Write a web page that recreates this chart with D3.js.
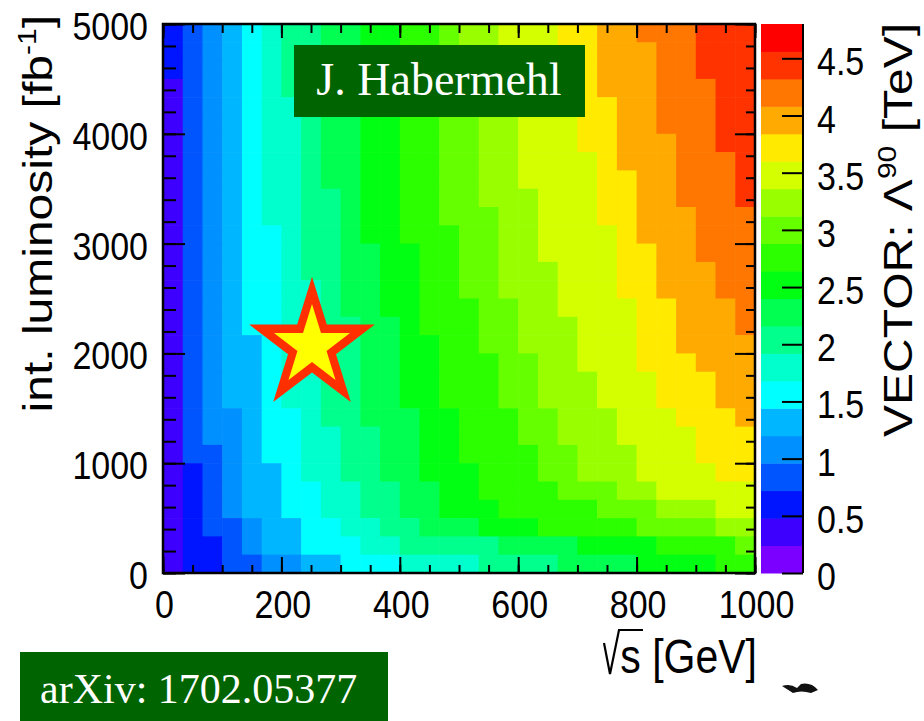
<!DOCTYPE html>
<meta charset="utf-8">
<style>
  body { margin: 0; background: #fff; }
  text { font-family: "Liberation Sans", Arial, Helvetica, sans-serif; fill: #000; }
</style>
<body>
<script src="https://cdn.jsdelivr.net/npm/d3@7"></script>
<script>

    // axis ranges and ticks
    const sqrtSRange = [0, 1000],          // GeV
          lumiRange = [0, 5000],           // fb^-1
          zRange = [0, 4.8];               // TeV
    const xTicks = [0, 200, 400, 600, 800, 1000],
          yTicks = [0, 1000, 2000, 3000, 4000, 5000],
          zTicks = [0, 0.5, 1, 1.5, 2, 2.5, 3, 3.5, 4, 4.5];

    // 20 contour colours, lowest first (ROOT rainbow palette)
    const palette = ["#7b00ff", "#3d00ff", "#0015ff", "#0055ff", "#0090ff",
                     "#00b7ff", "#00ffff", "#00ffcc", "#00ff8c", "#00ff50",
                     "#00ff12", "#2bff00", "#66ff00", "#99ff00", "#d4ff00",
                     "#ffea00", "#ffaa00", "#ff7700", "#ff3300", "#ff0000"];

    // Lambda^90 [TeV] per bin, 30 x 30; first row = highest luminosity bin
    const lambda90 = [
        [0.6,0.8,1.1,1.3,1.6,1.8,2.0,2.0,2.3,2.3,2.5,2.5,2.8,2.8,3.0,3.2,3.2,3.5,3.5,3.5,3.7,3.7,4.0,4.0,4.2,4.2,4.2,4.4,4.4,4.4],
        [0.6,0.8,1.1,1.3,1.6,1.8,2.0,2.0,2.3,2.3,2.5,2.5,2.8,2.8,3.0,3.2,3.2,3.5,3.5,3.5,3.7,3.7,4.0,4.0,4.0,4.2,4.2,4.4,4.4,4.4],
        [0.6,0.8,1.1,1.3,1.6,1.8,2.0,2.0,2.3,2.3,2.5,2.5,2.8,2.8,3.0,3.2,3.2,3.5,3.5,3.5,3.7,3.7,4.0,4.0,4.0,4.2,4.2,4.4,4.4,4.4],
        [0.4,0.8,1.1,1.3,1.6,1.8,2.0,2.0,2.3,2.3,2.5,2.5,2.8,2.8,3.0,3.2,3.2,3.5,3.5,3.5,3.5,3.7,4.0,4.0,4.0,4.2,4.2,4.2,4.4,4.4],
        [0.4,0.8,1.1,1.3,1.6,1.8,1.8,2.0,2.3,2.3,2.5,2.5,2.8,2.8,3.0,3.2,3.2,3.2,3.5,3.5,3.5,3.7,3.7,4.0,4.0,4.2,4.2,4.2,4.4,4.4],
        [0.4,0.8,1.1,1.3,1.6,1.8,1.8,2.0,2.3,2.3,2.5,2.5,2.8,2.8,3.0,3.0,3.2,3.2,3.5,3.5,3.5,3.7,3.7,4.0,4.0,4.2,4.2,4.2,4.4,4.4],
        [0.4,0.8,1.1,1.3,1.6,1.8,1.8,2.0,2.3,2.3,2.5,2.5,2.8,2.8,3.0,3.0,3.2,3.2,3.5,3.5,3.5,3.7,3.7,4.0,4.0,4.0,4.2,4.2,4.4,4.4],
        [0.4,0.8,1.1,1.3,1.6,1.8,1.8,2.0,2.3,2.3,2.5,2.5,2.8,2.8,3.0,3.0,3.2,3.2,3.5,3.5,3.5,3.5,3.7,4.0,4.0,4.0,4.2,4.2,4.2,4.4],
        [0.4,0.8,1.1,1.3,1.6,1.8,1.8,2.0,2.3,2.3,2.5,2.5,2.8,2.8,3.0,3.0,3.2,3.2,3.5,3.5,3.5,3.5,3.7,3.7,4.0,4.0,4.2,4.2,4.2,4.4],
        [0.4,0.8,1.1,1.3,1.6,1.8,1.8,2.0,2.0,2.3,2.5,2.5,2.8,2.8,3.0,3.0,3.2,3.2,3.2,3.5,3.5,3.5,3.7,3.7,4.0,4.0,4.2,4.2,4.2,4.4],
        [0.4,0.8,1.1,1.3,1.6,1.8,1.8,2.0,2.0,2.3,2.5,2.5,2.8,2.8,3.0,3.0,3.0,3.2,3.2,3.5,3.5,3.5,3.7,3.7,4.0,4.0,4.0,4.2,4.2,4.2],
        [0.4,0.8,1.1,1.3,1.6,1.6,1.8,2.0,2.0,2.3,2.5,2.5,2.8,2.8,2.8,3.0,3.0,3.2,3.2,3.5,3.5,3.5,3.5,3.7,4.0,4.0,4.0,4.2,4.2,4.2],
        [0.4,0.8,1.1,1.3,1.6,1.6,1.8,2.0,2.0,2.3,2.3,2.5,2.5,2.8,2.8,3.0,3.0,3.2,3.2,3.5,3.5,3.5,3.5,3.7,3.7,4.0,4.0,4.2,4.2,4.2],
        [0.4,0.8,1.1,1.3,1.6,1.6,1.8,2.0,2.0,2.3,2.3,2.5,2.5,2.8,2.8,3.0,3.0,3.2,3.2,3.2,3.5,3.5,3.5,3.7,3.7,4.0,4.0,4.0,4.2,4.2],
        [0.4,0.8,1.1,1.3,1.6,1.6,1.8,1.8,2.0,2.3,2.3,2.5,2.5,2.8,2.8,3.0,3.0,3.2,3.2,3.2,3.5,3.5,3.5,3.7,3.7,4.0,4.0,4.0,4.2,4.2],
        [0.4,0.8,1.1,1.3,1.6,1.6,1.8,1.8,2.0,2.3,2.3,2.5,2.5,2.8,2.8,2.8,3.0,3.0,3.2,3.2,3.5,3.5,3.5,3.5,3.7,3.7,4.0,4.0,4.0,4.2],
        [0.4,0.8,1.1,1.3,1.6,1.6,1.8,1.8,2.0,2.0,2.3,2.3,2.5,2.8,2.8,2.8,3.0,3.0,3.2,3.2,3.2,3.5,3.5,3.5,3.7,3.7,4.0,4.0,4.0,4.2],
        [0.4,0.8,1.1,1.3,1.3,1.6,1.8,1.8,2.0,2.0,2.3,2.3,2.5,2.5,2.8,2.8,3.0,3.0,3.2,3.2,3.2,3.5,3.5,3.5,3.7,3.7,4.0,4.0,4.0,4.0],
        [0.4,0.8,1.1,1.3,1.3,1.6,1.8,1.8,2.0,2.0,2.3,2.3,2.5,2.5,2.8,2.8,2.8,3.0,3.0,3.2,3.2,3.5,3.5,3.5,3.7,3.7,3.7,4.0,4.0,4.0],
        [0.4,0.8,1.1,1.3,1.3,1.6,1.8,1.8,2.0,2.0,2.3,2.3,2.5,2.5,2.8,2.8,2.8,3.0,3.0,3.2,3.2,3.2,3.5,3.5,3.5,3.7,3.7,3.7,4.0,4.0],
        [0.4,0.8,1.1,1.3,1.3,1.6,1.8,1.8,2.0,2.0,2.3,2.3,2.5,2.5,2.8,2.8,2.8,3.0,3.0,3.2,3.2,3.2,3.5,3.5,3.5,3.7,3.7,3.7,4.0,4.0],
        [0.4,0.8,1.1,1.1,1.3,1.6,1.6,1.8,2.0,2.0,2.3,2.3,2.3,2.5,2.5,2.8,2.8,2.8,3.0,3.0,3.2,3.2,3.2,3.5,3.5,3.5,3.7,3.7,3.7,4.0],
        [0.4,0.8,1.1,1.1,1.3,1.6,1.6,1.8,1.8,2.0,2.0,2.3,2.3,2.5,2.5,2.8,2.8,2.8,3.0,3.0,3.2,3.2,3.2,3.5,3.5,3.5,3.5,3.7,3.7,3.7],
        [0.4,0.8,0.8,1.1,1.3,1.6,1.6,1.8,1.8,2.0,2.0,2.3,2.3,2.5,2.5,2.8,2.8,2.8,2.8,3.0,3.0,3.2,3.2,3.2,3.5,3.5,3.5,3.7,3.7,3.7],
        [0.4,0.6,0.8,1.1,1.3,1.3,1.6,1.8,1.8,2.0,2.0,2.3,2.3,2.5,2.5,2.5,2.8,2.8,2.8,3.0,3.0,3.2,3.2,3.2,3.5,3.5,3.5,3.5,3.7,3.7],
        [0.4,0.6,0.8,1.1,1.3,1.3,1.6,1.6,1.8,1.8,2.0,2.0,2.3,2.3,2.5,2.5,2.8,2.8,2.8,2.8,3.0,3.0,3.0,3.2,3.2,3.5,3.5,3.5,3.5,3.5],
        [0.4,0.6,0.8,1.1,1.3,1.3,1.6,1.6,1.8,1.8,2.0,2.0,2.3,2.3,2.5,2.5,2.5,2.8,2.8,2.8,2.8,2.8,3.0,3.0,3.0,3.2,3.2,3.2,3.5,3.5],
        [0.4,0.6,0.8,0.8,1.1,1.3,1.3,1.6,1.6,1.8,1.8,2.0,2.0,2.3,2.3,2.3,2.5,2.5,2.5,2.8,2.8,2.8,2.8,2.8,3.0,3.0,3.0,3.0,3.2,3.2],
        [0.4,0.6,0.6,0.8,1.1,1.3,1.3,1.6,1.6,1.6,1.8,1.8,2.0,2.0,2.0,2.0,2.0,2.3,2.3,2.3,2.3,2.5,2.5,2.5,2.5,2.8,2.8,2.8,2.8,3.0],
        [0.4,0.6,0.6,0.8,0.8,1.1,1.1,1.3,1.3,1.6,1.6,1.6,1.8,1.8,1.8,1.8,2.0,2.0,2.0,2.0,2.3,2.3,2.3,2.3,2.5,2.5,2.5,2.5,2.8,2.8]
    ];

    const width = 924, height = 721;
    const frame = {left: 163, right: 755, top: 24, bottom: 573},
          bar = {left: 761, right: 803};
    const stretch = 1.15;   // the original figure is squeezed horizontally

    const svg = d3.select("body").append("svg")
        .attr("width", width)
        .attr("height", height);

    const x = d3.scaleLinear().domain(sqrtSRange).range([frame.left, frame.right]),
          y = d3.scaleLinear().domain(lumiRange).range([frame.bottom, frame.top]),
          z = d3.scaleLinear().domain(zRange).range([frame.bottom, frame.top]),
          color = d3.scaleQuantize().domain(zRange).range(palette);

    const binW = (sqrtSRange[1] - sqrtSRange[0]) / lambda90[0].length,
          binH = (lumiRange[1] - lumiRange[0]) / lambda90.length;

    const cells = lambda90.flatMap((row, r) => row.map((v, c) => ({
        x0: sqrtSRange[0] + c * binW,
        x1: sqrtSRange[0] + (c + 1) * binW,
        y1: lumiRange[1] - r * binH,
        y0: lumiRange[1] - (r + 1) * binH,
        v: v
    })));

    svg.append("g").selectAll("rect").data(cells).join("rect")
        .attr("x", d => x(d.x0))
        .attr("y", d => y(d.y1))
        .attr("width", d => x(d.x1) - x(d.x0) + 0.6)
        .attr("height", d => y(d.y0) - y(d.y1) + 0.6)
        .attr("fill", d => color(d.v));

    // ticks on all four sides, ROOT style (inside the frame)
    function ticks(axis, values, size, at) {
        svg.append("g").attr("transform", at)
            .call(axis.tickValues(values).tickSize(size).tickFormat(""))
            .call(g => g.select(".domain").remove())
            .selectAll("line").attr("stroke", "#000").attr("stroke-width", 2);
    }
    const xMinor = d3.range(0, 1001, 50),
          yMinor = d3.range(0, 5001, 200);
    ticks(d3.axisTop(x), xMinor, 8, `translate(0,${frame.bottom})`);
    ticks(d3.axisTop(x), xTicks, 16, `translate(0,${frame.bottom})`);
    ticks(d3.axisBottom(x), xMinor, 9, `translate(0,${frame.top})`);
    ticks(d3.axisBottom(x), xTicks, 14, `translate(0,${frame.top})`);
    ticks(d3.axisRight(y), yMinor, 13, `translate(${frame.left},0)`);
    ticks(d3.axisRight(y), yTicks, 22, `translate(${frame.left},0)`);
    ticks(d3.axisLeft(y), yMinor, 9, `translate(${frame.right},0)`);
    ticks(d3.axisLeft(y), yTicks, 20, `translate(${frame.right},0)`);

    svg.append("rect")
        .attr("x", frame.left).attr("y", frame.top)
        .attr("width", frame.right - frame.left)
        .attr("height", frame.bottom - frame.top)
        .attr("fill", "none").attr("stroke", "#000").attr("stroke-width", 2.5);

    // tick labels
    svg.append("g").selectAll("text").data(xTicks).join("text")
        .attr("transform", d => `translate(${x(d) + 1.5},618) scale(1,${stretch})`)
        .attr("text-anchor", "middle")
        .attr("font-size", 34)
        .text(d => d);

    svg.append("g").selectAll("text").data(yTicks).join("text")
        .attr("transform", d => `translate(148,${y(d) + 16}) scale(1,${stretch})`)
        .attr("text-anchor", "end")
        .attr("font-size", 34)
        .text(d => d);

    // colour bar
    const levels = d3.range(palette.length + 1)
        .map(i => zRange[0] + i * (zRange[1] - zRange[0]) / palette.length);

    svg.append("g").selectAll("rect").data(palette).join("rect")
        .attr("x", bar.left)
        .attr("width", bar.right - bar.left)
        .attr("y", (c, i) => z(levels[i + 1]))
        .attr("height", (c, i) => z(levels[i]) - z(levels[i + 1]) + 0.5)
        .attr("fill", c => c);

    ticks(d3.axisLeft(z), zTicks, 21, `translate(${bar.right},0)`);

    svg.append("line")
        .attr("x1", bar.right).attr("x2", bar.right)
        .attr("y1", frame.top).attr("y2", frame.bottom)
        .attr("stroke", "#000").attr("stroke-width", 2);

    svg.append("g").selectAll("text").data(zTicks).join("text")
        .attr("transform", d => `translate(817,${z(d) + 17}) scale(1,${stretch})`)
        .attr("font-size", 34)
        .text(d => d);

    // axis titles
    svg.append("text")
        .attr("transform", `translate(757,673) scale(1,${stretch})`)
        .attr("text-anchor", "end")
        .attr("font-size", 41)
        .text("s [GeV]");

    const root = d3.path();
    root.moveTo(604, 643);
    root.lineTo(610, 674);
    root.lineTo(619, 630);
    root.lineTo(643, 630);
    svg.append("path").attr("d", root.toString())
        .attr("fill", "none").attr("stroke", "#000").attr("stroke-width", 2.2);

    const yTitle = svg.append("text")
        .attr("transform", "translate(52,15) scale(1,1.2) rotate(-90)")
        .attr("text-anchor", "end")
        .attr("font-size", 40);
    yTitle.append("tspan").text("int. luminosity [fb");
    yTitle.append("tspan").attr("font-size", 25).attr("dy", -16).text("-1");
    yTitle.append("tspan").attr("dy", 16).text("]");

    const zTitle = svg.append("text")
        .attr("transform", "translate(912,23) scale(1,1.2) rotate(-90)")
        .attr("text-anchor", "end")
        .attr("font-size", 40);
    zTitle.append("tspan").text("VECTOR: \u039B");
    zTitle.append("tspan").attr("font-size", 25).attr("dy", -16).text("90");
    zTitle.append("tspan").attr("dy", 16).text(" [TeV]");

    // the star marking the 250 GeV / 2000 fb^-1 point
    const starPoints = (R, r) => d3.range(10).map(i => [i * Math.PI / 5, i % 2 ? r : R]);
    const star = d3.lineRadial().curve(d3.curveLinearClosed);
    const starAt = `translate(312,346) scale(1,1.05)`;
    svg.append("path").attr("transform", starAt)
        .attr("d", star(starPoints(66, 25.2))).attr("fill", "#ff2f00");
    svg.append("path").attr("transform", starAt)
        .attr("d", star(starPoints(40, 15.3))).attr("fill", "#ffff00");

    // overlay labels
    svg.append("rect").attr("x", 294).attr("y", 45).attr("width", 291).attr("height", 72)
        .attr("fill", "#006400");
    svg.append("text").attr("x", 439).attr("y", 95)
        .attr("text-anchor", "middle")
        .style("font-family", '"Liberation Serif", "Times New Roman", serif')
        .style("fill", "#fff")
        .attr("font-size", 46)
        .text("J. Habermehl");

    svg.append("rect").attr("x", 20).attr("y", 652).attr("width", 368).attr("height", 69)
        .attr("fill", "#006400");
    svg.append("text").attr("x", 40).attr("y", 703)
        .style("font-family", '"Liberation Serif", "Times New Roman", serif')
        .style("fill", "#fff")
        .attr("font-size", 42)
        .text("arXiv: 1702.05377");

    // cropped remnant of something below the figure
    svg.append("path")
        .attr("d", "M782,686 Q790,683 797,688 L801,684 Q811,682 818,690 L811,693 Q801,690 793,693 Z")
        .attr("fill", "#111");
</script>
